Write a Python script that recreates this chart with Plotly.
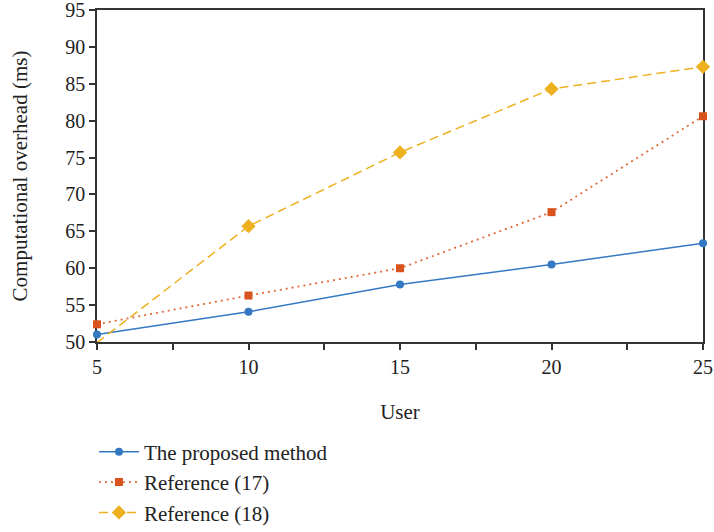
import plotly.graph_objects as go

users = [5, 10, 15, 20, 25]
proposed = [51.0, 54.1, 57.8, 60.5, 63.4]
ref17 = [52.4, 56.3, 60.0, 67.6, 80.6]
ref18 = [49.9, 65.7, 75.7, 84.3, 87.3]

FONT = "Liberation Serif"

fig = go.Figure()
fig.add_trace(go.Scatter(x=users, y=proposed, name="The proposed method", mode="lines+markers",
                         line=dict(color="#3478c2", width=1.5), cliponaxis=False,
                         marker=dict(symbol="circle", size=8, color="#3478c2")))
fig.add_trace(go.Scatter(x=users, y=ref17, name="Reference (17)", mode="lines+markers",
                         line=dict(color="#e06a3a", width=1.8, dash="2px,4px"), cliponaxis=False,
                         marker=dict(symbol="square", size=8, color="#d9531e")))
fig.add_trace(go.Scatter(x=users, y=ref18, name="Reference (18)", mode="lines+markers",
                         line=dict(color="#edb120", width=1.5, dash="9px,5px"), cliponaxis=False,
                         marker=dict(symbol="diamond", size=11, color="#edb120")))

fig.update_layout(
    width=714, height=532,
    margin=dict(l=97, r=11, t=10, b=190, autoexpand=False),
    plot_bgcolor="white", paper_bgcolor="white",
    font=dict(family=FONT, size=20, color="#222"),
    showlegend=True,
    legend=dict(x=-0.005, xanchor="left", y=-0.27, yanchor="top",
                itemwidth=40,
                font=dict(family=FONT, size=21, color="#222"),
                bgcolor="rgba(0,0,0,0)"),
    xaxis=dict(range=[5, 25], tickvals=[5, 10, 15, 20, 25], ticks="outside", ticklen=6,
               tickwidth=1.5, tickcolor="#333", automargin=False, ticklabeloverflow="allow",
               minor=dict(tickvals=[7.5, 12.5, 17.5, 22.5], ticks="outside", ticklen=6,
                          tickwidth=1.5, tickcolor="#333"),
               showline=True, linecolor="#333", linewidth=1.5, mirror=True,
               showgrid=False, zeroline=False, layer="below traces",
               title=dict(text="User", font=dict(family=FONT, size=21), standoff=28),
               tickfont=dict(family=FONT, size=20)),
    yaxis=dict(range=[50, 95], tickvals=list(range(50, 96, 5)), ticks="outside", ticklen=6,
               tickwidth=1.5, tickcolor="#333", automargin=False, ticklabeloverflow="allow",
               showline=True, linecolor="#333", linewidth=1.5, mirror=True,
               showgrid=False, zeroline=False, layer="below traces",
               title=dict(text="Computational overhead (ms)", font=dict(family=FONT, size=21), standoff=32),
               tickfont=dict(family=FONT, size=20)),
)

fig.write_html("out.html", config={"displayModeBar": False},
               post_script="document.body.style.margin='0';document.body.style.overflow='hidden';")
